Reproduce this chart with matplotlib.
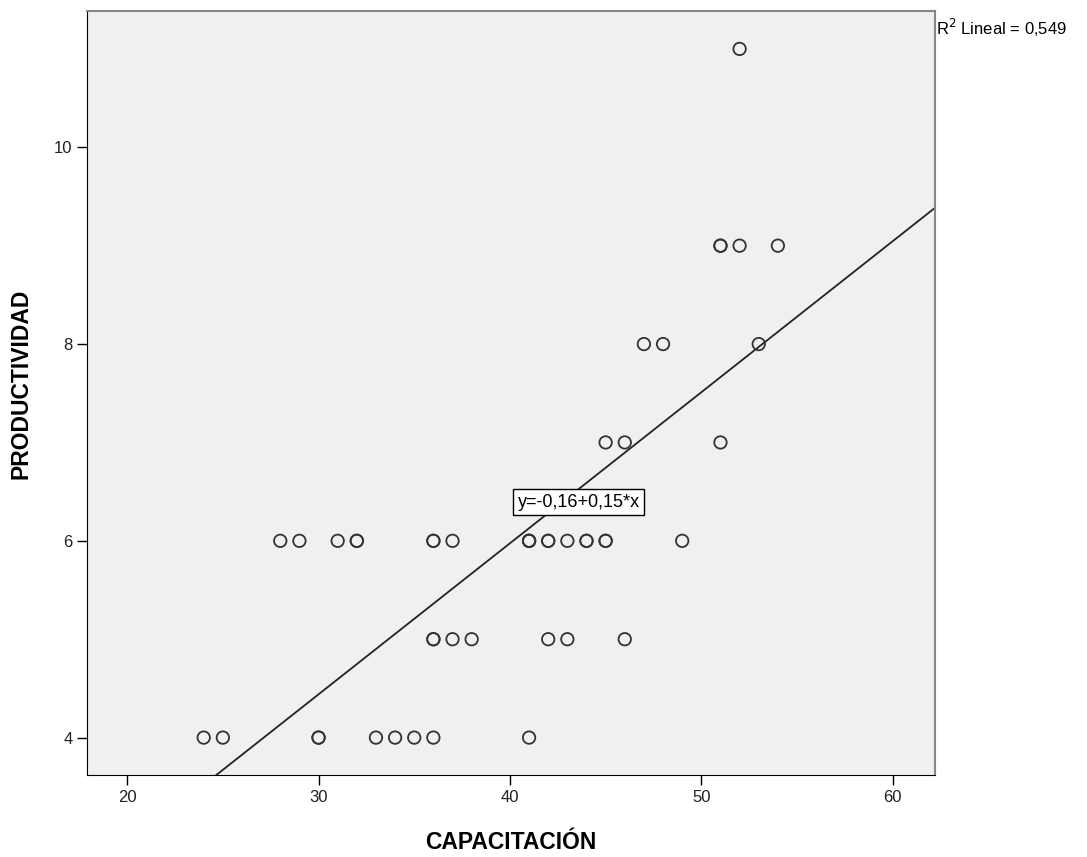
import numpy as np
import matplotlib.pyplot as plt

plt.rcParams['font.family'] = ['Liberation Sans', 'DejaVu Sans']

# puntos (los repetidos se ven como circulos mas oscuros)
capacitacion = [24, 25, 30, 30, 33, 34, 35, 36, 41,
                36, 36, 37, 38, 42, 43, 46,
                28, 29, 31, 32, 32, 36, 36, 37, 41, 41, 41, 42, 42, 43,
                44, 44, 45, 45, 49,
                45, 46, 51,
                47, 48, 53,
                51, 51, 52, 54,
                52]
productividad = [4, 4, 4, 4, 4, 4, 4, 4, 4,
                 5, 5, 5, 5, 5, 5, 5,
                 6, 6, 6, 6, 6, 6, 6, 6, 6, 6, 6, 6, 6, 6,
                 6, 6, 6, 6, 6,
                 7, 7, 7,
                 8, 8, 8,
                 9, 9, 9, 9,
                 11]
eq_label = 'y=-0,16+0,15*x'
r2_label = 'R$^2$ Lineal = 0,549'
x_ticks = [20, 30, 40, 50, 60]
y_ticks = [4, 6, 8, 10]

fig = plt.figure(figsize=(10.87, 8.57), dpi=100)
ax = fig.add_axes([0.080, 0.0957, 0.780, 0.892])
ax.set_facecolor('#f0f0f0')

ax.scatter(capacitacion, productividad, s=80, facecolors='none',
           edgecolors='#333333', linewidths=1.3, zorder=3)

# linea de ajuste a partir de los datos
b1, b0 = np.polyfit(capacitacion, productividad, 1)
xs = np.array([15, 65])
ax.plot(xs, b0 + b1 * xs, color='#222222', lw=1.3, zorder=2)

ax.set_xlim(17.9, 62.2)
ax.set_ylim(3.62, 11.39)
ax.set_xticks(x_ticks)
ax.set_yticks(y_ticks)
ax.tick_params(axis='both', direction='out', length=7, width=1,
               labelsize=12, color='black', labelcolor='#222222')

for s in ['left', 'bottom']:
    ax.spines[s].set_color('black')
for s in ['top', 'right']:
    ax.spines[s].set_color('#888888')
    ax.spines[s].set_linewidth(1.5)

ax.set_xlabel('CAPACITACIÓN', fontsize=16.5, fontweight='bold')
ax.set_ylabel('PRODUCTIVIDAD', fontsize=16.5, fontweight='bold')
ax.xaxis.set_label_coords(0.5, -0.073)
ax.yaxis.set_label_coords(-0.064, 0.512)

ax.text(43.6, 6.39, eq_label, fontsize=13, ha='center', va='center',
        bbox=dict(boxstyle='square,pad=0.25', fc='white', ec='black', lw=1),
        zorder=4)

fig.text(0.861, 0.967, r2_label, fontsize=12, ha='left', va='center')

fig.savefig('out.png', dpi=100)
